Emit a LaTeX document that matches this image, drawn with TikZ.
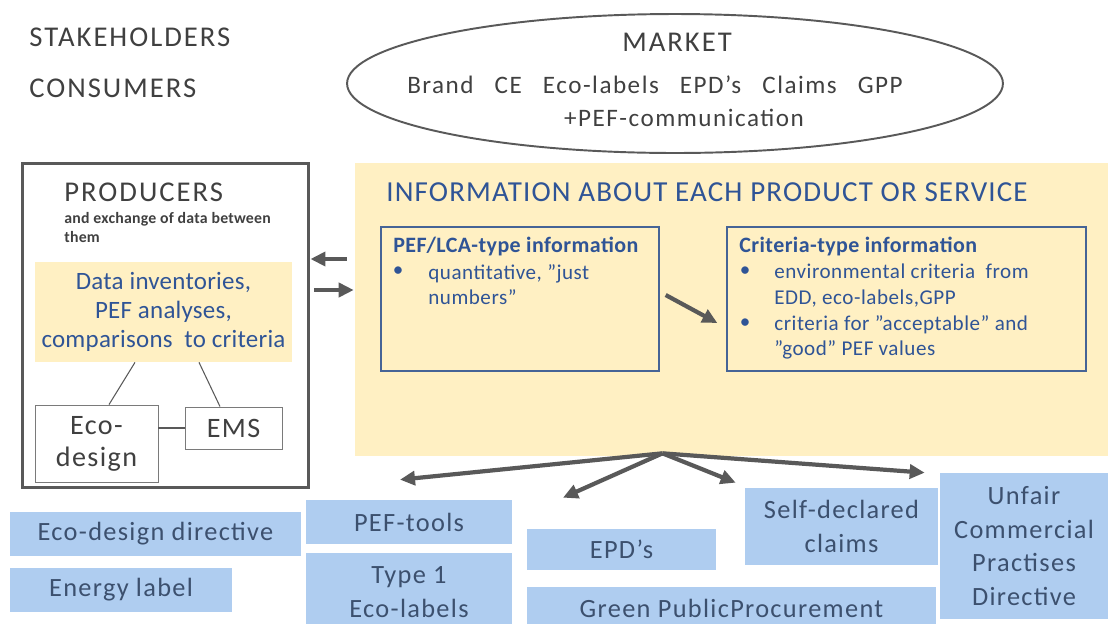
\documentclass[tikz,border=0pt]{standalone}
\usepackage{fontspec}
\setmainfont{Carlito}
\usepackage{tikz}
\usetikzlibrary{shapes.geometric, arrows.meta, positioning, calc}
\definecolor{txtgray}{RGB}{64, 64, 64}
\definecolor{linegray}{RGB}{89, 89, 89}
\definecolor{infoyellow}{RGB}{255, 240, 195}
\definecolor{headblue}{RGB}{47, 84, 150}
\definecolor{frameblue}{RGB}{70, 100, 150}
\definecolor{boxblue}{RGB}{175, 205, 240}
\definecolor{slate}{RGB}{60, 80, 110}

\begin{document}
\begin{tikzpicture}[
  x=0.02cm, y=-0.02cm,
  big/.style={text=txtgray, font=\fontsize{16.3}{19}\selectfont\addfontfeature{LetterSpace=7}, inner sep=0pt},
  mkt/.style={text=txtgray, font=\fontsize{14.3}{17}\selectfont\addfontfeature{LetterSpace=6}, inner sep=0pt},
  bx/.style={fill=boxblue, text=slate, font=\fontsize{15}{19.3}\selectfont\addfontfeature{LetterSpace=5}, align=center, inner sep=0pt},
  frame/.style={draw=frameblue, line width=0.8pt, inner sep=0pt},
  wbox/.style={draw=linegray!80, line width=0.5pt, fill=white, text=txtgray, font=\fontsize{16}{18.2}\selectfont\addfontfeature{LetterSpace=5}, align=center, inner sep=0pt},
  btitle/.style={text=headblue, font=\bfseries\fontsize{12.5}{15}\selectfont\addfontfeature{LetterSpace=2}, inner sep=0pt},
  btxt/.style={text=headblue, font=\fontsize{12}{14.6}\selectfont\addfontfeature{LetterSpace=2.5}, align=left, inner sep=0pt},
  arr/.style={-{Triangle[length=3mm, width=2.8mm]}, line width=2.4pt, draw=linegray},
]
  \useasboundingbox (0,0) rectangle (1108,623);

  \node[big, anchor=west] (stake) at (29,37) {STAKEHOLDERS};
  \node[big, anchor=west] (cons) at (29,88) {CONSUMERS};

  \node[ellipse, draw=linegray, line width=1.1pt, minimum width=131.2mm, minimum height=27.8mm, inner sep=0pt] (market) at (675,83.5) {};
  \node[big] (mkttitle) at (677,42) {MARKET};
  \node[mkt] (mktitems) at (655,85) {Brand\hspace{12pt}CE\hspace{12pt}Eco-labels\hspace{12pt}EPD’s\hspace{12pt}Claims\hspace{12pt}GPP};
  \node[mkt] (mktpef) at (684,118) {+PEF-communication};

  \node[draw=linegray, line width=1.7pt, minimum width=57.4mm, minimum height=65mm, inner sep=0pt] (prod) at (165.5,325.5) {};
  \node[big, anchor=west] (prodtitle) at (64,192) {PRODUCERS};
  \node[big, anchor=west, align=left, font=\bfseries\fontsize{9}{10.8}\selectfont\addfontfeature{LetterSpace=1.5}] (prodsub) at (64,227.5) {and exchange of data between\\them};
  \node[fill=infoyellow, text=headblue, font=\fontsize{14.2}{16.5}\selectfont\addfontfeature{LetterSpace=1}, align=center, minimum width=51.4mm, minimum height=20mm, inner sep=0pt] (datainv) at (163.5,312) {Data inventories,\\PEF analyses,\\comparisons\ \ to criteria};
  \node[wbox, minimum width=24.6mm, minimum height=15.4mm] (ecod) at (96.5,443.5) {Eco-\\design};
  \node[wbox, minimum width=19.4mm, minimum height=8.4mm] (ems) at (233.5,428) {EMS};
  \draw[linegray, line width=0.6pt] ($(datainv.south)+(-28.5,0)$) -- ($(ecod.north)+(12.5,0)$);
  \draw[linegray, line width=0.6pt] ($(datainv.south)+(35.5,0)$) -- ($(ems.north)+(-13.5,0)$);
  \draw[linegray, line width=0.6pt] (ems.west) -- (ems.west -| ecod.east);

  \node[fill=infoyellow, minimum width=150.6mm, minimum height=58.6mm, inner sep=0pt] (info) at (731.5,309.5) {};
  \node[text=headblue, font=\fontsize{16.5}{18}\selectfont\addfontfeature{LetterSpace=4}, anchor=west, inner sep=0pt] (infotitle) at (386,192) {INFORMATION ABOUT EACH PRODUCT OR SERVICE};

  \draw[arr, shorten <=1.6mm] (info.west |- 0,259) -- (prod.east |- 0,259);
  \draw[arr, shorten <=0.8mm, shorten >=0.2mm] (prod.east |- 0,290) -- (info.west |- 0,290);

  \node[frame, minimum width=55.6mm, minimum height=28.8mm] (pefbox) at (520,299) {};
  \node[btitle, anchor=west] (peftitle) at (393,246) {PEF/LCA-type information};
  \node[btxt] (pefb1) at (398,272) {\textbullet};
  \node[btxt, anchor=west] (peft1) at (428,284.5) {quantitative, ”just\\numbers”};

  \node[frame, minimum width=71.8mm, minimum height=28.8mm] (critbox) at (906.5,299) {};
  \node[btitle, anchor=west] (crittitle) at (739,246) {Criteria-type information};
  \node[btxt] (critb1) at (745,272) {\textbullet};
  \node[btxt, anchor=west] (critt1) at (774,285.5) {environmental criteria\ \ from\\EDD, eco-labels,GPP};
  \node[btxt] (critb2) at (745,324) {\textbullet};
  \node[btxt, anchor=west] (critt2) at (774,337.5) {criteria for ”acceptable” and\\”good” PEF values};

  \draw[arr] ($(pefbox.east)+(6,-4)$) -- ($(critbox.west)+(-9,24)$);

  \node[bx, minimum width=58.2mm, minimum height=8.8mm] (ecodir) at (155.5,534) {Eco-design directive};
  \node[bx, minimum width=44.4mm, minimum height=8.8mm] (energy) at (121,590) {Energy label};
  \node[bx, minimum width=41.2mm, minimum height=8.8mm] (peftools) at (409,522) {PEF-tools};
  \node[bx, minimum width=41.2mm, minimum height=15.8mm] (type1) at (409,592.5) {Type 1\\Eco-labels};
  \node[bx, minimum width=37.8mm, minimum height=8.2mm] (epd) at (621.5,549.5) {EPD’s};
  \node[bx, minimum width=81.8mm, minimum height=8.4mm] (gpp) at (731.5,608) {Green PublicProcurement};
  \node[bx, minimum width=38.6mm, minimum height=15.4mm] (self) at (841.5,526.5) {Self-declared\\claims};
  \node[bx, minimum width=33.6mm, minimum height=29.2mm] (unfair) at (1024,546) {Unfair\\Commercial\\Practises\\Directive};

  \coordinate (hub) at ($(info.south)+(-69,-3)$);
  \draw[arr] (hub) -- ($(peftools.north)+(-9,-20)$);
  \draw[arr] (hub) -- ($(epd.north)+(-58.5,-31)$);
  \draw[arr] (hub) -- ($(self.north west)+(-9,-5)$);
  \draw[arr] (hub) -- ($(unfair.north west)+(-15,0)$);
\end{tikzpicture}
\end{document}
